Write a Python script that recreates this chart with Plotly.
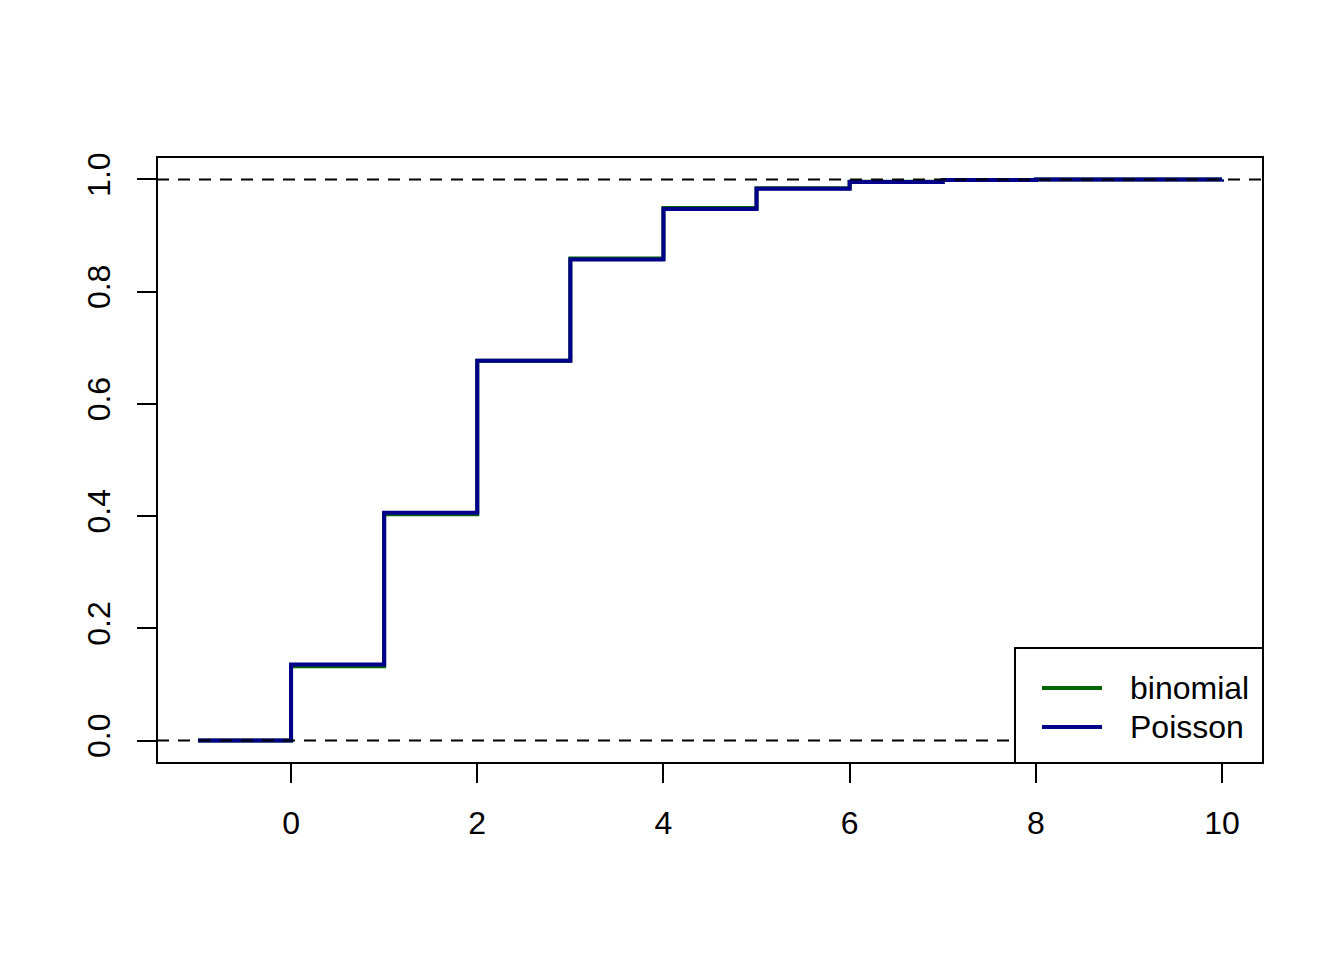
import plotly.graph_objects as go

x_vals = [-1, 0, 1, 2, 3, 4, 5, 6, 7, 8, 9, 10]
binom_cdf = [0.0, 0.13262, 0.40327, 0.67668, 0.85895, 0.94916, 0.98451, 0.99593, 0.99906, 0.99980, 0.99996, 0.99999]
pois_cdf = [0.0, 0.13534, 0.40601, 0.67668, 0.85712, 0.94735, 0.98344, 0.99547, 0.99890, 0.99976, 0.99995, 0.99999]
x_ticks = [0, 2, 4, 6, 8, 10]
y_ticks = [0.0, 0.2, 0.4, 0.6, 0.8, 1.0]
y_tick_labels = ["0.0", "0.2", "0.4", "0.6", "0.8", "1.0"]
legend_names = ["binomial", "Poisson"]
colors = ["#006400", "#00008B"]

OFF = 8  # default body margin of the html page
W, H = 1344 - OFF, 960 - OFF
L, R, T, B = 157, 1263, 157, 763  # target pixel positions on the page
FONT = dict(family="Liberation Sans, Arial, Helvetica, sans-serif", size=32, color="black")

fig = go.Figure()
fig.add_trace(go.Scatter(x=x_vals, y=binom_cdf, mode="lines", line=dict(color=colors[0], width=4, shape="hv"),
                         name=legend_names[0], showlegend=False))
fig.add_trace(go.Scatter(x=x_vals, y=pois_cdf, mode="lines", line=dict(color=colors[1], width=4, shape="hv"),
                         name=legend_names[1], showlegend=False))

def px(xp):
    return (xp - L) / (R - L)

def py(yp):
    return (B - yp) / (B - T)

shapes = []
for yv in (0, 1):
    shapes.append(dict(type="line", xref="paper", yref="y", x0=0, x1=1, y0=yv, y1=yv,
                       line=dict(color="black", width=2, dash="12px,9px"), layer="above"))
shapes.append(dict(type="rect", xref="paper", yref="paper", x0=0, x1=1, y0=0, y1=1,
                   line=dict(color="black", width=2), layer="above"))
shapes.append(dict(type="rect", xref="paper", yref="paper", x0=px(1015), x1=1, y0=0, y1=py(648),
                   line=dict(color="black", width=2), fillcolor="white", layer="above"))
annotations = []
for nm, c, yy in zip(legend_names, colors, [688, 727]):
    shapes.append(dict(type="line", xref="paper", yref="paper", x0=px(1042), x1=px(1102), y0=py(yy), y1=py(yy),
                       line=dict(color=c, width=4), layer="above"))
    annotations.append(dict(xref="paper", yref="paper", x=px(1128), y=py(yy), text=nm, showarrow=False,
                            xanchor="left", yanchor="middle", font=FONT))

fig.update_layout(
    width=W, height=H,
    margin=dict(l=L - OFF, r=1344 - R, t=T - OFF, b=960 - B, pad=0),
    paper_bgcolor="white", plot_bgcolor="white",
    showlegend=False,
    shapes=shapes, annotations=annotations,
    xaxis=dict(range=[-1.44, 10.44], tickvals=x_ticks, ticktext=[str(v) for v in x_ticks],
               ticks="outside", ticklen=19, tickwidth=2, tickcolor="black",
               showgrid=False, zeroline=False, showline=False, tickfont=FONT, ticklabelstandoff=13),
    yaxis=dict(range=[-0.04, 1.04], tickvals=y_ticks, ticktext=y_tick_labels,
               ticks="outside", ticklen=19, tickwidth=2, tickcolor="black", tickangle=-90,
               showgrid=False, zeroline=False, showline=False, tickfont=FONT, ticklabelstandoff=14),
)
fig.write_html("out.html")
